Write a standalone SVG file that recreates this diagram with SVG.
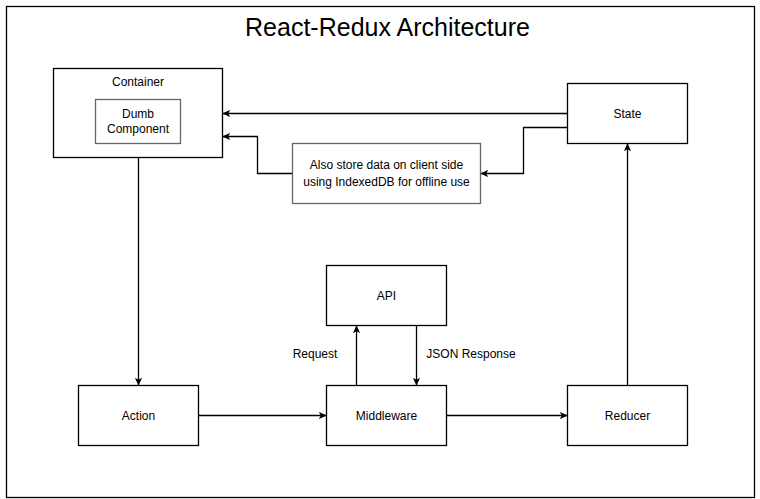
<svg xmlns="http://www.w3.org/2000/svg" width="760" height="499" viewBox="0 0 760 499">
<style>
.box{fill:#fff;stroke:#000;stroke-width:1.3}
.gbox{fill:#fff;stroke:#666;stroke-width:1.3}
.lbl{font-family:"Liberation Sans",Arial,sans-serif;font-size:12px;fill:#000;text-anchor:middle}
.edge{fill:none;stroke:#000;stroke-width:1.3;marker-end:url(#arr)}
</style>
<defs>
<marker id="arr" viewBox="0 0 10 10" refX="9" refY="5" markerWidth="8" markerHeight="8" markerUnits="userSpaceOnUse" orient="auto">
<path d="M0,0.5 L10,5 L0,9.5 L2.5,5 Z" fill="#000"/>
</marker>
</defs>
<rect x="0" y="0" width="760" height="499" fill="#fff"/>
<rect x="6.5" y="6.5" width="748" height="491" fill="#fff" stroke="#000" stroke-width="1.3"/>
<text x="387.5" y="36" font-family="&quot;Liberation Sans&quot;,Arial,sans-serif" font-size="25" text-anchor="middle" fill="#000">React-Redux Architecture</text>
<g id="connectors">
<path class="edge" d="M567.5,113.5 L223,113.5"/>
<path class="edge" d="M567.5,127.5 L523.5,127.5 L523.5,173.5 L481,173.5"/>
<path class="edge" d="M292.5,173.5 L257.5,173.5 L257.5,136.5 L223,136.5"/>
<path class="edge" d="M138.5,158 L138.5,385"/>
<path class="edge" d="M198.5,415.5 L326,415.5"/>
<path class="edge" d="M446.5,415.5 L567,415.5"/>
<path class="edge" d="M627.5,385.5 L627.5,144"/>
<path class="edge" d="M356.5,385.5 L356.5,326"/>
<path class="edge" d="M416.5,325.5 L416.5,385"/>
<text class="lbl" x="315" y="358">Request</text>
<text class="lbl" x="471" y="358">JSON Response</text>
</g>
<g id="container">
<rect class="box" x="53.5" y="68.5" width="169" height="89"/>
<text class="lbl" x="138" y="86">Container</text>
</g>
<g id="dumb">
<rect class="gbox" x="95.5" y="99.5" width="85" height="44"/>
<text class="lbl" x="138" y="118">Dumb</text>
<text class="lbl" x="138" y="133">Component</text>
</g>
<g id="state">
<rect class="box" x="567.5" y="83.5" width="120" height="60"/>
<text class="lbl" x="627.5" y="118">State</text>
</g>
<g id="indexeddb">
<rect class="gbox" x="292.5" y="143.5" width="188" height="60"/>
<text class="lbl" x="386.5" y="169">Also store data on client side</text>
<text class="lbl" x="386.5" y="186">using IndexedDB for offline use</text>
</g>
<g id="api">
<rect class="box" x="326.5" y="265.5" width="120" height="60"/>
<text class="lbl" x="386.5" y="300">API</text>
</g>
<g id="action">
<rect class="box" x="78.5" y="385.5" width="120" height="60"/>
<text class="lbl" x="138.5" y="420">Action</text>
</g>
<g id="middleware">
<rect class="box" x="326.5" y="385.5" width="120" height="60"/>
<text class="lbl" x="386.5" y="420">Middleware</text>
</g>
<g id="reducer">
<rect class="box" x="567.5" y="385.5" width="120" height="60"/>
<text class="lbl" x="627.5" y="420">Reducer</text>
</g>
</svg>
